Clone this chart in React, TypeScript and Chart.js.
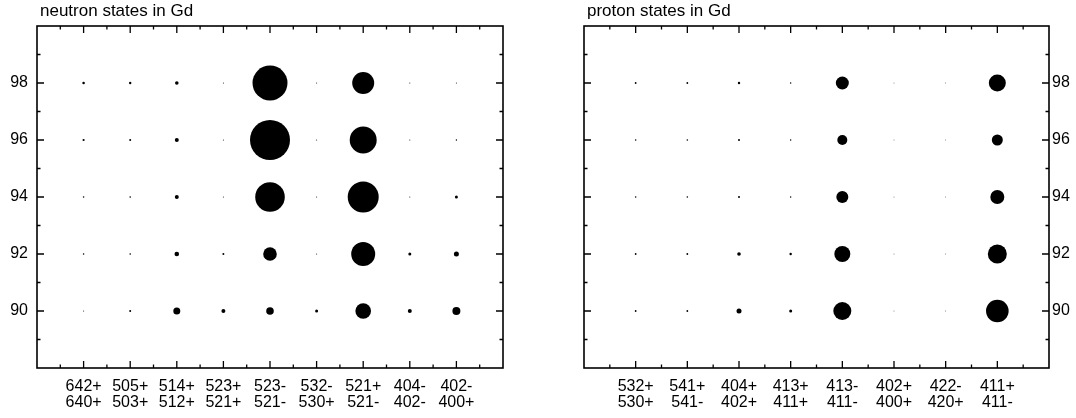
import React, { useEffect, useRef } from "react";
import { Chart, registerables } from "chart.js";

Chart.register(...registerables);

const FONT = "'Liberation Sans', Arial, Helvetica, sans-serif";

// Titles
const neutronTitle = "neutron states in Gd";
const protonTitle = "proton states in Gd";

// Category labels (two lines each)
const neutronStates: string[][] = [
  ["642+", "640+"],
  ["505+", "503+"],
  ["514+", "512+"],
  ["523+", "521+"],
  ["523-", "521-"],
  ["532-", "530+"],
  ["521+", "521-"],
  ["404-", "402-"],
  ["402-", "400+"],
];
const protonStates: string[][] = [
  ["532+", "530+"],
  ["541+", "541-"],
  ["404+", "402+"],
  ["413+", "411+"],
  ["413-", "411-"],
  ["402+", "400+"],
  ["422-", "420+"],
  ["411+", "411-"],
];

// Mass numbers (rows) and y tick labels
const massNumbers = [98, 96, 94, 92, 90];
const yTickValues = [90, 92, 94, 96, 98];

// Bubble radii, one row per mass number, one entry per state
const neutronRadii: number[][] = [
  [1.3, 1.2, 1.8, 0.5, 17.5, 0.5, 11.0, 0.5, 0.5], // A=98
  [1.1, 1.0, 2.0, 0.5, 20.0, 0.5, 13.5, 0.5, 0.7], // A=96
  [0.8, 0.8, 2.0, 0.5, 14.8, 0.5, 15.5, 0.5, 1.5], // A=94
  [0.8, 0.8, 2.3, 1.0, 6.8, 0.5, 12.0, 1.5, 2.5], // A=92
  [0.5, 1.0, 3.5, 2.0, 3.8, 1.5, 7.8, 2.0, 4.0], // A=90
];
const protonRadii: number[][] = [
  [0.9, 0.9, 1.2, 0.7, 6.5, 0.4, 0.4, 8.5], // A=98
  [0.8, 0.8, 1.0, 0.7, 5.0, 0.4, 0.4, 5.5], // A=96
  [0.8, 0.8, 1.0, 0.7, 6.0, 0.4, 0.4, 7.0], // A=94
  [0.9, 0.9, 1.8, 1.2, 8.0, 0.4, 0.4, 9.5], // A=92
  [0.9, 0.9, 2.5, 1.5, 9.0, 0.4, 0.4, 11.3], // A=90
];

type PanelProps = {
  title: string;
  states: string[][];
  radii: number[][];
  side: "left" | "right";
  left: number;
  width: number;
};

function Panel({ title, states, radii, side, left, width }: PanelProps) {
  const ref = useRef<HTMLCanvasElement | null>(null);

  useEffect(() => {
    const canvas = ref.current;
    if (!canvas) return;

    const points: { x: number; y: number; r: number }[] = [];
    massNumbers.forEach((a, row) => {
      states.forEach((_, col) => {
        points.push({ x: col + 1, y: a, r: radii[row][col] });
      });
    });

    const frame = {
      id: "frame",
      afterDraw(chart: any) {
        const { ctx, chartArea: ar, scales } = chart;
        const xs = scales.x;
        const ys = scales.y;
        ctx.save();
        ctx.strokeStyle = "#000";
        ctx.lineWidth = 1.6;
        ctx.strokeRect(ar.left, ar.top, ar.right - ar.left, ar.bottom - ar.top);
        ctx.lineWidth = 1.3;
        ctx.beginPath();
        for (let v = 0.5; v < xs.max; v += 0.5) {
          const px = xs.getPixelForValue(v);
          const len = Number.isInteger(v) ? 7 : 3.5;
          ctx.moveTo(px, ar.bottom);
          ctx.lineTo(px, ar.bottom - len);
          ctx.moveTo(px, ar.top);
          ctx.lineTo(px, ar.top + len);
        }
        for (let v = ys.min + 1; v < ys.max; v += 1) {
          const py = ys.getPixelForValue(v);
          const len = v % 2 === 0 ? 7 : 3.5;
          ctx.moveTo(ar.left, py);
          ctx.lineTo(ar.left + len, py);
          ctx.moveTo(ar.right, py);
          ctx.lineTo(ar.right - len, py);
        }
        ctx.stroke();
        ctx.fillStyle = "#000";
        ctx.font = `17px ${FONT}`;
        ctx.textBaseline = "middle";
        ctx.textAlign = "left";
        ctx.fillText(title, ar.left + 3, 11);
        ctx.restore();
      },
    };

    const isLeft = side === "left";
    const chart = new Chart(canvas, {
      type: "bubble",
      data: {
        datasets: [
          {
            data: points,
            backgroundColor: "#000",
            borderColor: "#000",
            borderWidth: 0,
          },
        ],
      },
      options: {
        animation: false,
        responsive: false,
        devicePixelRatio: 1,
        events: [],
        layout: {
          padding: isLeft
            ? { top: 26, right: 37, left: 0, bottom: 0 }
            : { top: 26, right: 0, left: 44, bottom: 0 },
        },
        plugins: {
          legend: { display: false },
          tooltip: { enabled: false },
          title: { display: false },
        },
        scales: {
          x: {
            type: "linear",
            position: "bottom",
            min: 0,
            max: states.length + 1,
            afterBuildTicks: (s: any) => {
              s.ticks = states.map((_, i) => ({ value: i + 1 }));
            },
            afterFit: (s: any) => {
              s.height = 50;
            },
            grid: { display: false, drawTicks: false },
            border: { display: false },
            ticks: {
              autoSkip: false,
              maxRotation: 0,
              minRotation: 0,
              padding: 11,
              color: "#000",
              font: { family: FONT, size: 16, lineHeight: 1.0 },
              callback: (v: any) => states[Math.round(Number(v)) - 1] ?? "",
            },
          },
          y: {
            type: "linear",
            position: isLeft ? "left" : "right",
            min: 88,
            max: 100,
            afterBuildTicks: (s: any) => {
              s.ticks = yTickValues.map((v) => ({ value: v }));
            },
            afterFit: (s: any) => {
              s.width = isLeft ? 37 : 27;
            },
            grid: { display: false, drawTicks: false },
            border: { display: false },
            ticks: {
              padding: isLeft ? 9 : 3,
              color: "#000",
              font: { family: FONT, size: 16 },
              callback: (v: any) => String(v),
            },
          },
        },
      } as any,
      plugins: [frame],
    });

    return () => chart.destroy();
  }, [title, states, radii, side]);

  return (
    <canvas
      ref={ref}
      width={width}
      height={418}
      style={{ position: "absolute", left, top: 0, width, height: 418, display: "block" }}
    />
  );
}

export default function App() {
  return (
    <div
      style={{
        position: "absolute",
        left: 0,
        top: 0,
        width: 1076,
        height: 418,
        background: "#fff",
        overflow: "hidden",
      }}
    >
      <Panel title={neutronTitle} states={neutronStates} radii={neutronRadii} side="left" left={0} width={540} />
      <Panel title={protonTitle} states={protonStates} radii={protonRadii} side="right" left={540} width={536} />
    </div>
  );
}
